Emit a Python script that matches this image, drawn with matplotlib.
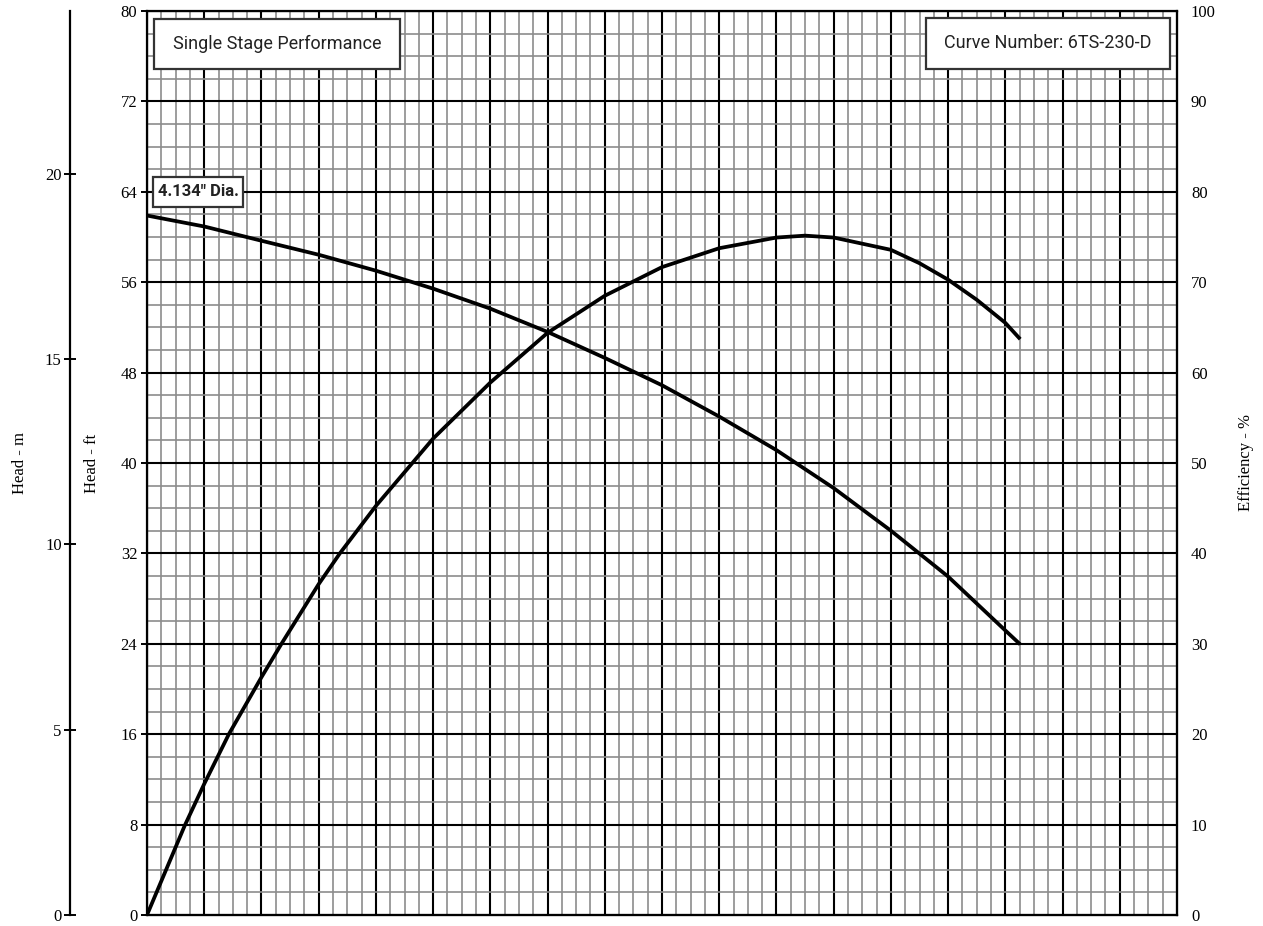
import numpy as np
import matplotlib
matplotlib.use("Agg")
import matplotlib.pyplot as plt
from matplotlib.patches import Rectangle

# flow in grid units (no x labels on the original sheet)
flow_head = [0, 1, 2, 3, 4, 5, 6, 7, 8, 9, 10, 11, 12, 13, 14, 15, 15.26]
head_ft = [61.9, 60.93, 59.67, 58.43, 57.02, 55.43, 53.66, 51.6, 49.3,
           46.88, 44.11, 41.14, 37.78, 34.01, 29.95, 25.18, 23.95]

flow_eff = [0, 0.66, 1, 1.43, 2, 2.35, 3, 3.37, 4, 5, 6, 7, 8, 9, 10, 11,
            11.5, 12, 13, 13.5, 14, 14.5, 15, 15.26]
eff_pct = [0, 9.9, 14.5, 20.0, 26.3, 30.0, 36.6, 40.0, 45.25, 52.7, 58.9,
           64.4, 68.5, 71.67, 73.76, 74.94, 75.15, 74.94, 73.58, 72.1, 70.28,
           68.06, 65.5, 63.7]

head_ticks_ft = np.arange(0, 81, 8)
head_ticks_m = [0, 5, 10, 15, 20]
eff_ticks = np.arange(0, 101, 10)

plt.rcParams['font.family'] = ['Liberation Serif', 'DejaVu Serif']

W, H = 1263, 926
fig = plt.figure(figsize=(W / 100, H / 100), dpi=100)
ax = fig.add_axes([147 / W, 11 / H, 1030 / W, 904 / H])

ax.set_xlim(0, 18)
ax.set_ylim(0, 80)
ax.set_xticks(np.arange(0, 19, 1))
ax.set_xticks(np.arange(0, 18.01, 0.25), minor=True)
ax.set_yticks(head_ticks_ft)
ax.set_yticks(np.arange(0, 80.1, 2), minor=True)
ax.grid(which='minor', color='#8c8c8c', lw=1.2)
ax.grid(which='major', color='black', lw=1.5)
ax.tick_params(axis='x', which='both', length=0, labelbottom=False)
ax.tick_params(axis='y', which='major', direction='out', length=4, width=1.4,
               labelsize=12, pad=3)
ax.tick_params(axis='y', which='minor', length=0)
for s in ax.spines.values():
    s.set_linewidth(1.6)
ax.set_ylabel('Head - ft', fontsize=12, labelpad=15)

ax.plot(flow_head, head_ft, color='black', lw=2.7, solid_capstyle='butt',
        solid_joinstyle='round', zorder=5)

ax2 = ax.twinx()
ax2.set_ylim(0, 100)
ax2.set_yticks(eff_ticks)
ax2.tick_params(axis='y', length=0, labelsize=12, pad=10)
ax2.plot(flow_eff, eff_pct, color='black', lw=2.7, solid_capstyle='butt',
         solid_joinstyle='round', zorder=5)
ax2.set_ylabel('Efficiency - %', fontsize=12, labelpad=16)

sec = ax.secondary_yaxis(-77 / 1030, functions=(lambda f: f * 0.3048,
                                                 lambda m: m / 0.3048))
sec.set_yticks(head_ticks_m)
sec.tick_params(direction='inout', length=8, width=1.4, labelsize=12, pad=2)
sec.spines['left'].set_linewidth(1.6)
sec.set_ylabel('Head - m', fontsize=12, labelpad=12)


def label_box(x0, y0, x1, y1, text, size, bold=False):
    fig.add_artist(Rectangle((x0 / W, 1 - y1 / H), (x1 - x0) / W, (y1 - y0) / H,
                             transform=fig.transFigure, facecolor='white',
                             edgecolor='#333333', lw=1.6, zorder=10))
    fig.text((x0 + x1) / 2 / W, 1 - (y0 + y1) / 2 / H, text,
             ha='center', va='center', fontsize=size, color='#222222',
             family=['Roboto', 'DejaVu Sans'],
             fontweight='bold' if bold else 'normal', zorder=11)


label_box(154, 19, 400, 69, 'Single Stage Performance', 13)
label_box(926, 18, 1170, 69, 'Curve Number: 6TS-230-D', 13)
label_box(153, 177, 243, 207, '4.134" Dia.', 12, bold=True)

fig.savefig('out.png', dpi=100)
